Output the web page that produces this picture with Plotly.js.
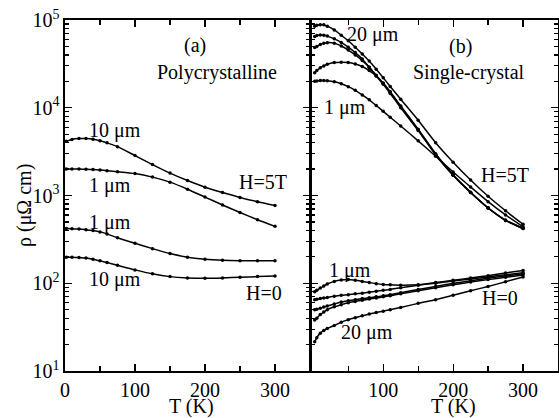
<!DOCTYPE html>
<html>
<head>
<meta charset="utf-8">
<script src="https://cdn.plot.ly/plotly-3.0.1.min.js"></script>
<style>html,body{margin:0;padding:0;background:#fff;}#chart{width:559px;height:418px;}</style>
</head>
<body>
<div id="chart"></div>
<script>
// ---------- data ----------
// Panel (a) Polycrystalline
const T_poly = [2,10,20,30,40,50,60,75,100,125,150,175,200,225,250,275,300];
const poly_5T_10um = [4150,4350,4450,4450,4380,4200,3980,3600,2850,2250,1800,1480,1240,1080,950,850,770];
const poly_5T_1um  = [2000,2000,2000,1990,1975,1950,1920,1870,1780,1620,1420,1180,960,780,640,530,445];
const poly_H0_1um  = [420,419,414,408,398,385,365,330,285,248,218,198,188,183,181,180,181];
const poly_H0_10um = [198,198,196,194,188,180,172,160,142,128,119,115,114,115,117,119,121];

// Panel (b) Single-crystal
const T_sc = [2,5,10,15,20,30,40,50,60,70,80,90,100,110,125,150,175,200,225,250,275,300];
const sc_5T_20um = [85000,87000,88500,88000,85000,77000,67000,58000,49000,41000,34000,27500,22000,17500,12500,7200,4000,2400,1500,980,670,470];
const sc_5T_b    = [65000,66500,67500,67000,65500,61000,55500,49000,42500,36000,29000,23000,18500,14500,10000,5500,2900,1700,1080,720,520,420];
const sc_5T_c    = [48500,50000,52500,54500,55200,54500,50500,45500,40000,34500,29000,23500,19000,15000,10300,5600,2950,1700,1080,720,520,420];
const sc_5T_d    = [25000,26500,28500,30000,31300,32700,33100,32800,31500,29500,26500,23000,19000,15200,10500,5700,3000,1720,1090,725,525,425];
const sc_5T_1um  = [20000,20200,20400,20400,20300,19800,18800,17400,15800,14000,12300,10600,9100,7800,6200,4200,2800,1850,1250,850,600,440];

const sc_H0_1um  = [80,83,88,93,98,105,109,110,108,105,102,99,97,96,95,96,100,106,112,118,125,132];
const sc_H0_b    = [65,65.5,67,68,69,71,73,74,76,77,79,81,83,85,89,95,102,108,115,122,131,140];
const sc_H0_c    = [50,50.5,52,53.5,55,58,61,63,65,67,68.5,70,72,74,78,85,92,100,107,114,121,128];
const sc_H0_d    = [38,40,44,47,50,54,57,60,62,64,66,68,70,72,76,82,89,96,103,110,117,124];
const sc_H0_20um = [21.5,24,27,29,30.5,33,36,38.5,40.5,42.5,44.5,46.5,48,50,53,59,65,73,82,92,104,118];

const xTicks = [0,100,200,300];
const xTicksB = [100,200,300];
const xMinor = [50,150,250];
const yTicks = [10,100,1000,10000,100000];
const yTickText = ['10<sup>1</sup>','10<sup>2</sup>','10<sup>3</sup>','10<sup>4</sup>','10<sup>5</sup>'];

// ---------- drawing ----------
const FONT = '"Liberation Serif", "Times New Roman", serif';
const W = 559, H = 418, ML = 65, MR = 1, MT = 20, MB = 47;
const PW = W - ML - MR, PH = H - MT - MB;
const px = x => (x - ML) / PW;
const py = y => (H - MB - y) / PH;

function tr(x, y, xa, ya) {
  return {x: x, y: y, xaxis: xa, yaxis: ya, type: 'scatter', mode: 'lines+markers',
    line: {color: '#000', width: 1.5, shape: 'spline', smoothing: 0.6},
    marker: {color: '#000', size: 3.5}, showlegend: false, hoverinfo: 'skip'};
}
const traces = [
  tr(T_poly, poly_5T_10um, 'x', 'y'),
  tr(T_poly, poly_5T_1um, 'x', 'y'),
  tr(T_poly, poly_H0_1um, 'x', 'y'),
  tr(T_poly, poly_H0_10um, 'x', 'y'),
  tr(T_sc, sc_5T_20um, 'x2', 'y2'),
  tr(T_sc, sc_5T_b, 'x2', 'y2'),
  tr(T_sc, sc_5T_c, 'x2', 'y2'),
  tr(T_sc, sc_5T_d, 'x2', 'y2'),
  tr(T_sc, sc_5T_1um, 'x2', 'y2'),
  tr(T_sc, sc_H0_1um, 'x2', 'y2'),
  tr(T_sc, sc_H0_b, 'x2', 'y2'),
  tr(T_sc, sc_H0_c, 'x2', 'y2'),
  tr(T_sc, sc_H0_d, 'x2', 'y2'),
  tr(T_sc, sc_H0_20um, 'x2', 'y2')
];

const yMinor = [];
for (let k = 1; k < 5; k++) for (let m = 2; m <= 9; m++) yMinor.push(m * Math.pow(10, k));

const axBase = {showline: true, linecolor: '#000', linewidth: 1.6, mirror: 'ticks',
  ticks: 'inside', ticklen: 7, tickwidth: 1.2, tickcolor: '#000', showgrid: false, zeroline: false,
  tickfont: {family: FONT, size: 20, color: '#000'}};

function ann(text, x, y, extra) {
  return Object.assign({text: text, xref: 'paper', yref: 'paper', x: px(x), y: py(y),
    xanchor: 'center', yanchor: 'middle', showarrow: false,
    font: {family: FONT, size: 20, color: '#000'}}, extra || {});
}

const layout = {
  width: W, height: H, margin: {l: ML, r: MR, t: MT, b: MB},
  paper_bgcolor: '#fff', plot_bgcolor: '#fff',
  font: {family: FONT, color: '#000'},
  xaxis: Object.assign({}, axBase, {domain: [0, 245 / PW], range: [0, 350], tickmode: 'array', tickvals: xTicks,
    minor: {tickmode: 'array', tickvals: xMinor, ticks: 'inside', ticklen: 5, tickcolor: '#000'}}),
  yaxis: Object.assign({}, axBase, {type: 'log', range: [1, 5], tickmode: 'array', tickvals: yTicks, ticktext: yTickText,
    minor: {tickmode: 'array', tickvals: yMinor, ticks: 'inside', ticklen: 4, tickcolor: '#000'}}),
  xaxis2: Object.assign({}, axBase, {domain: [246 / PW, 1], anchor: 'y2', range: [-3.3, 350], tickmode: 'array', tickvals: xTicksB,
    minor: {tickmode: 'array', tickvals: xMinor, ticks: 'inside', ticklen: 5, tickcolor: '#000'}}),
  yaxis2: Object.assign({}, axBase, {type: 'log', range: [1, 5], anchor: 'x2', tickmode: 'array', tickvals: yTicks,
    showticklabels: false,
    minor: {tickmode: 'array', tickvals: yMinor, ticks: 'inside', ticklen: 4, tickcolor: '#000'}}),
  annotations: [
    ann('ρ (μΩ cm)', 24, 206, {textangle: -90}),
    ann('T (K)', 191, 406),
    ann('T (K)', 453, 406),
    ann('(a)', 195, 45),
    ann('Polycrystalline', 217, 72),
    ann('10 μm', 115, 130),
    ann('1 μm', 110, 185),
    ann('H=5T', 263, 182),
    ann('1 μm', 110, 222),
    ann('10 μm', 115, 279),
    ann('H=0', 264, 293),
    ann('20 μm', 373, 35),
    ann('(b)', 460, 47),
    ann('Single-crystal', 469, 72),
    ann('1 μm', 345, 108),
    ann('H=5T', 505, 175),
    ann('1 μm', 350, 270),
    ann('H=0', 500, 298),
    ann('20 μm', 367, 332)
  ]
};

Plotly.newPlot('chart', traces, layout, {staticPlot: true, displayModeBar: false});
</script>
</body>
</html>
